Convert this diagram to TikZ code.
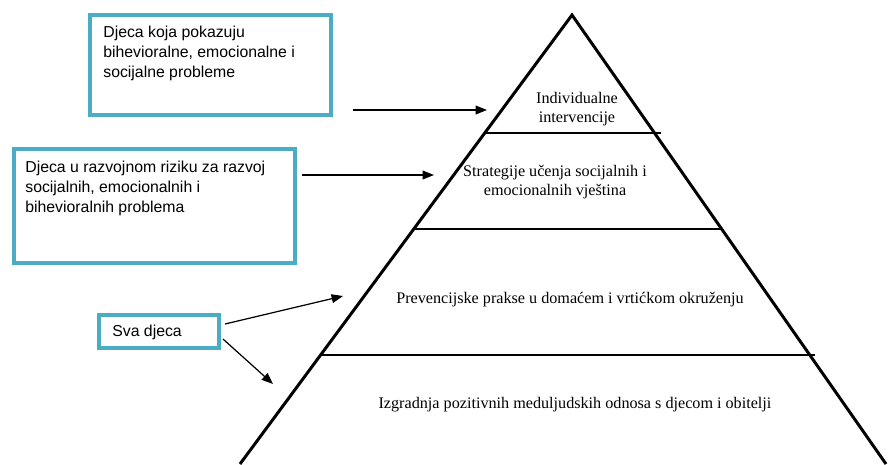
\documentclass[tikz,border=0pt]{standalone}
\usepackage{fontspec}
\setmainfont{Liberation Serif}
\setsansfont{Liberation Sans}
\usetikzlibrary{arrows.meta}
\usetikzlibrary{calc}
\definecolor{boxblue}{HTML}{4BACC6}

\begin{document}
\begin{tikzpicture}[x=0.02cm,y=-0.02cm,
    >={Triangle[length=6.5pt,width=5pt]},
    groupbox/.style={draw=boxblue,line width=2.3pt,inner sep=0pt},
    grouptext/.style={font=\sffamily\fontsize{9}{11.3}\selectfont,align=left,inner sep=0pt,anchor=north west},
    tiertext/.style={font=\rmfamily\fontsize{9.2}{10.8}\selectfont,align=center,inner sep=0pt},
    tierline/.style={line width=0.9pt},
    pointer/.style={->,line width=0.7pt}]
                \useasboundingbox (0,0) rectangle (891,464);
                % pyramid
                \coordinate (Apex) at (572,15);
                \coordinate (BaseL) at (240,464);
                \coordinate (BaseR) at (886,464);
                \draw[line width=1.7pt] (BaseL) -- (Apex) -- (BaseR);
                \draw[tierline] (485,133) -- (661,133);
                \draw[tierline] (414,229) -- (723,229);
                \draw[tierline] (320,355) -- (815,355);
                \node[tiertext] (Tier1) at (577,109) {Individualne\\intervencije};
                \node[tiertext] (Tier2) at (555,182) {Strategije učenja socijalnih i\\emocionalnih vještina};
                \node[tiertext] (Tier3) at (570,300) {Prevencijske prakse u domaćem i vrtićkom okruženju};
                \node[tiertext] (Tier4) at (575,405) {Izgradnja pozitivnih meduljudskih odnosa s djecom i obitelji};
                % groups of children
                \node[groupbox,minimum width=4.82cm,minimum height=2.0cm] (Box1) at (210.5,65) {};
                \node[groupbox,minimum width=5.62cm,minimum height=2.28cm] (Box2) at (154.5,206) {};
                \node[groupbox,minimum width=2.4cm,minimum height=0.66cm] (Box3) at (159,331.5) {};
                \node[grouptext] (Text1) at (103,26) {Djeca koja pokazuju\\bihevioralne, emocionalne i\\socijalne probleme};
                \node[grouptext] (Text2) at (25,161) {Djeca u razvojnom riziku za razvoj\\socijalnih, emocionalnih i\\bihevioralnih problema};
                \node[grouptext] (Text3) at (112,325) {Sva djeca};
                % pointers
                \coordinate (Arr1S) at (353,110);
                \coordinate (Arr1E) at (487,110);
                \coordinate (Arr2S) at (302,175);
                \coordinate (Arr2E) at (434,175);
                \coordinate (Arr3S) at (225,324);
                \coordinate (Arr3E) at (343,296);
                \coordinate (Arr4S) at (223,339);
                \coordinate (Arr4E) at (273,384);
                \draw[pointer] (Arr1S) to (Arr1E);
                \draw[pointer] (Arr2S) to (Arr2E);
                \draw[pointer] (Arr3S) to (Arr3E);
                \draw[pointer] (Arr4S) to (Arr4E);
            \end{tikzpicture}
\end{document}
